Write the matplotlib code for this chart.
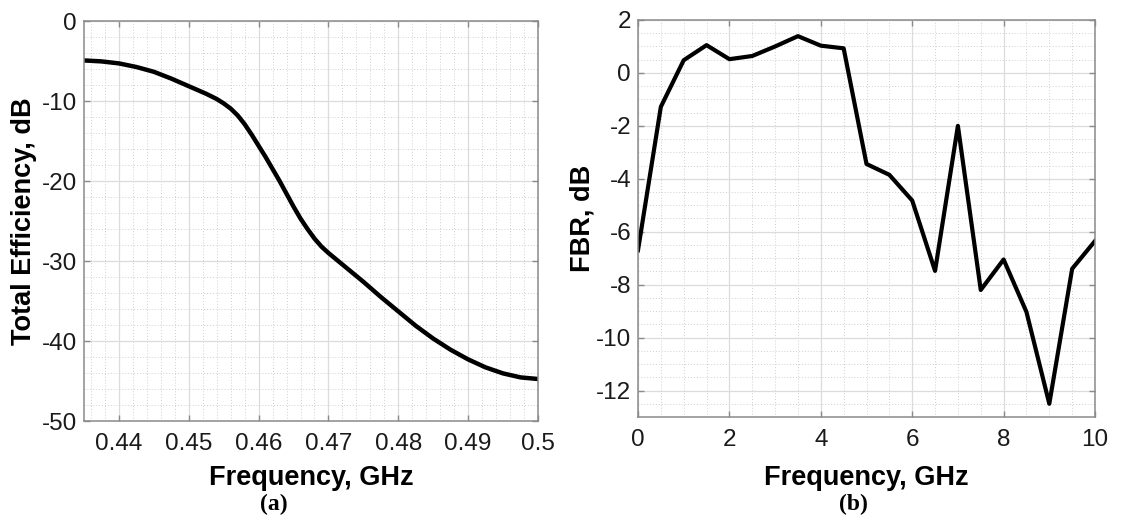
import matplotlib
matplotlib.use('Agg')
import matplotlib.pyplot as plt
import matplotlib.transforms as mtransforms
from matplotlib.ticker import MultipleLocator

# (a) total efficiency vs frequency
effFreq = [0.435, 0.4375, 0.44, 0.4425, 0.445, 0.4475, 0.45, 0.4525, 0.454, 0.455,
           0.456, 0.457, 0.458, 0.459, 0.46, 0.461, 0.462, 0.463, 0.464, 0.465,
           0.466, 0.467, 0.468, 0.469, 0.47, 0.4725, 0.475, 0.4775, 0.48, 0.4825,
           0.485, 0.4875, 0.49, 0.4925, 0.495, 0.4975, 0.5]
effDB = [-4.93, -5.05, -5.3, -5.75, -6.35, -7.2, -8.15, -9.1, -9.75, -10.3,
         -10.95, -11.8, -12.9, -14.2, -15.6, -17.0, -18.5, -20.0, -21.6, -23.2,
         -24.7, -26.0, -27.2, -28.2, -29.0, -30.8, -32.6, -34.5, -36.3, -38.1,
         -39.7, -41.1, -42.3, -43.3, -44.05, -44.55, -44.75]

# (b) front-to-back ratio vs frequency
fbrFreq = [0, 0.5, 1, 1.5, 2, 2.5, 3, 3.5, 4, 4.5, 5, 5.5, 6, 6.5, 7, 7.5, 8, 8.5, 9, 9.5, 10]
fbrDB = [-6.7, -1.28, 0.48, 1.05, 0.52, 0.64, 1.0, 1.39, 1.03, 0.93, -3.44, -3.85,
         -4.82, -7.48, -2.0, -8.2, -7.05, -9.03, -12.5, -7.4, -6.35]

W, H = 1124, 518
plt.rcParams['font.family'] = ['Liberation Sans', 'DejaVu Sans']
plt.rcParams['axes.unicode_minus'] = False
fig = plt.figure(figsize=(W / 100, H / 100), dpi=100)

frame = '#8a8a8a'


def px(l, t, r, b):
    return [l / W, (H - b) / H, (r - l) / W, (b - t) / H]


def style(ax, xmaj, xmin, ymaj, ymin):
    ax.xaxis.set_major_locator(MultipleLocator(xmaj))
    ax.xaxis.set_minor_locator(MultipleLocator(xmin))
    ax.yaxis.set_major_locator(MultipleLocator(ymaj))
    ax.yaxis.set_minor_locator(MultipleLocator(ymin))
    ax.grid(which='major', color='#dcdcdc', linewidth=0.9, linestyle='-')
    ax.grid(which='minor', color='#cfcfcf', linewidth=0.7, linestyle=(0, (1, 2)))
    ax.set_axisbelow(True)
    for s in ax.spines.values():
        s.set_color(frame)
        s.set_linewidth(1.1)
    ax.tick_params(which='major', direction='in', length=4, width=1, color=frame,
                   top=True, right=True, labelsize=17.5, labelcolor='#1a1a1a')
    ax.tick_params(which='minor', length=0)
    ax.tick_params(axis='x', pad=9)
    ax.tick_params(axis='y', pad=5)


def labels(ax, xl, yl, ylx, cap, capx):
    ax.set_xlabel(xl, fontsize=19.5, fontweight='bold', va='center')
    ax.xaxis.set_label_coords(0.5, (H - 478) / H,
                              transform=mtransforms.blended_transform_factory(ax.transAxes, fig.transFigure))
    ax.set_ylabel(yl, fontsize=19.5, fontweight='bold', va='center')
    ax.yaxis.set_label_coords(ylx / W, 0.5,
                              transform=mtransforms.blended_transform_factory(fig.transFigure, ax.transAxes))
    fig.text(capx / W, (H - 504) / H, cap, ha='center', va='center',
             fontsize=17, fontweight='bold', family='Liberation Serif')


ax1 = fig.add_axes(px(84, 21, 538, 421))
ax1.plot(effFreq, effDB, color='black', linewidth=3.2)
ax1.set_xlim(0.435, 0.5)
ax1.set_ylim(-50, 0)
style(ax1, 0.01, 0.002, 10, 2)
ax1.set_xticks([0.44, 0.45, 0.46, 0.47, 0.48, 0.49, 0.5])
ax1.set_xticklabels(['0.44', '0.45', '0.46', '0.47', '0.48', '0.49', '0.5'])
labels(ax1, 'Frequency, GHz', 'Total Efficiency, dB', 24, '(a)', 274)

ax2 = fig.add_axes(px(638, 20, 1095, 417))
ax2.plot(fbrFreq, fbrDB, color='black', linewidth=3)
ax2.set_xlim(0, 10)
ax2.set_ylim(-13, 2)
style(ax2, 2, 0.5, 2, 0.5)
labels(ax2, 'Frequency, GHz', 'FBR, dB', 583, '(b)', 853)

fig.savefig('out.png', dpi=100)
